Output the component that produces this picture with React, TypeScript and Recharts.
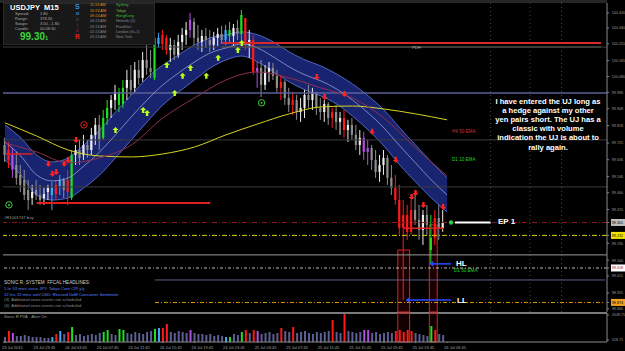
import React from "react";
import {
  Area,
  Bar,
  Cell,
  ComposedChart,
  Line,
  ReferenceArea,
  ReferenceDot,
  ReferenceLine,
  XAxis,
  YAxis,
} from "recharts";

// USDJPY M15, one slot per half hour (approx), 153 slots across the window
const slotCount = 153;

const opens = [
  99.715, 99.688, 99.662, 99.608, 99.555, 99.528, 99.475, 99.432,
  99.475, 99.448, 99.432, 99.464, 99.486, 99.453, 99.496, 99.528,
  99.464, 99.432, 99.662, 99.688, 99.662, 99.715, 99.688, 99.769,
  99.822, 99.753, 99.859, 99.913, 99.955, 99.998, 99.934, 100.02,
  100.062, 100.02, 100.116, 100.073, 100.169, 100.126, 100.073, 100.287,
  100.254, 100.287, 100.222, 100.249, 100.196, 100.265, 100.303, 100.329,
  100.372, 100.287, 100.265, 100.297, 100.276, 100.249, 100.287, 100.308,
  100.276, 100.329, 100.297, 100.34, 100.308, 100.393, 100.249, 100.276,
  100.105, 100.126, 100.036, 100.105, 100.126, 100.084, 100.02, 100.052,
  99.966, 99.929, 99.955, 99.891, 99.913, 99.982, 99.955, 99.998,
  99.913, 99.891, 99.934, 99.859, 99.891, 99.838, 99.859, 99.795,
  99.822, 99.769, 99.715, 99.753, 99.678, 99.699, 99.635, 99.571,
  99.608, 99.646, 99.539, 99.486, 99.421, 99.272, 99.341, 99.251,
  99.368, 99.315, 99.261, 99.341, 99.154, 99.219, 99.325, 99.272,
];
const highs = [
  99.753, 99.731, 99.699, 99.678, 99.608, 99.582, 99.528, 99.502,
  99.528, 99.502, 99.486, 99.502, 99.518, 99.528, 99.555, 99.539,
  99.582, 99.688, 99.715, 99.742, 99.769, 99.742, 99.806, 99.859,
  99.875, 99.902, 99.955, 99.982, 100.036, 100.02, 100.062, 100.116,
  100.142, 100.158, 100.169, 100.212, 100.249, 100.222, 100.313, 100.313,
  100.329, 100.303, 100.287, 100.276, 100.303, 100.34, 100.372, 100.42,
  100.393, 100.356, 100.329, 100.34, 100.329, 100.319, 100.34, 100.351,
  100.356, 100.372, 100.361, 100.383, 100.436, 100.393, 100.329, 100.303,
  100.158, 100.169, 100.142, 100.158, 100.153, 100.116, 100.089, 100.062,
  100.02, 99.998, 99.982, 99.966, 100.009, 100.036, 100.02, 99.998,
  99.966, 99.955, 99.945, 99.913, 99.929, 99.891, 99.902, 99.849,
  99.859, 99.822, 99.795, 99.785, 99.742, 99.715, 99.688, 99.662,
  99.688, 99.662, 99.608, 99.555, 99.502, 99.421, 99.395, 99.421,
  99.448, 99.395, 99.368, 99.395, 99.341, 99.368, 99.395, 99.368,
];
const lows = [
  99.624, 99.592, 99.539, 99.502, 99.464, 99.421, 99.368, 99.395,
  99.421, 99.395, 99.395, 99.421, 99.368, 99.421, 99.448, 99.432,
  99.395, 99.421, 99.608, 99.608, 99.635, 99.646, 99.662, 99.715,
  99.688, 99.742, 99.822, 99.859, 99.902, 99.891, 99.913, 99.955,
  99.982, 99.998, 100.036, 100.052, 100.089, 100.073, 100.062, 100.233,
  100.222, 100.196, 100.158, 100.169, 100.18, 100.222, 100.249, 100.287,
  100.249, 100.222, 100.212, 100.233, 100.212, 100.222, 100.244, 100.254,
  100.249, 100.265, 100.244, 100.276, 100.26, 100.222, 100.18, 100.089,
  100.02, 99.971, 100.009, 100.052, 100.062, 99.998, 99.955, 99.929,
  99.891, 99.875, 99.849, 99.838, 99.859, 99.913, 99.902, 99.875,
  99.849, 99.838, 99.822, 99.806, 99.795, 99.769, 99.753, 99.731,
  99.742, 99.688, 99.662, 99.635, 99.608, 99.582, 99.539, 99.518,
  99.555, 99.502, 99.448, 99.395, 99.235, 98.887, 99.208, 99.235,
  99.288, 99.208, 99.181, 99.235, 99.08, 99.181, 99.208, 99.251,
];
const closes = [
  99.662, 99.635, 99.582, 99.539, 99.502, 99.448, 99.421, 99.464,
  99.448, 99.421, 99.453, 99.486, 99.448, 99.502, 99.528, 99.475,
  99.528, 99.662, 99.688, 99.646, 99.715, 99.688, 99.769, 99.822,
  99.742, 99.859, 99.913, 99.955, 99.998, 99.929, 100.02, 100.062,
  100.009, 100.116, 100.073, 100.169, 100.126, 100.105, 100.287, 100.254,
  100.303, 100.222, 100.249, 100.196, 100.265, 100.303, 100.329, 100.383,
  100.287, 100.265, 100.297, 100.276, 100.249, 100.287, 100.308, 100.276,
  100.329, 100.297, 100.34, 100.308, 100.409, 100.249, 100.276, 100.105,
  100.126, 100.036, 100.105, 100.126, 100.084, 100.02, 100.052, 99.966,
  99.929, 99.955, 99.891, 99.913, 99.982, 99.955, 99.998, 99.913,
  99.891, 99.934, 99.859, 99.891, 99.838, 99.859, 99.795, 99.822,
  99.769, 99.715, 99.753, 99.678, 99.699, 99.635, 99.571, 99.608,
  99.646, 99.539, 99.486, 99.421, 99.272, 99.341, 99.251, 99.368,
  99.315, 99.261, 99.341, 99.288, 99.219, 99.325, 99.272, 99.301,
];
const volumes = [
  780, 1290, 1120, 870, 870, 950, 870, 780,
  780, 780, 700, 700, 780, 1040, 1290, 1040,
  1210, 1630, 950, 1040, 870, 950, 1040, 950,
  1120, 1210, 1380, 1040, 950, 1460, 1380, 1120,
  1040, 1210, 1120, 1040, 1210, 1290, 1460, 1550,
  1550, 1890, 1210, 1120, 1290, 1210, 1120, 1380,
  1120, 1040, 1040, 950, 1040, 870, 950, 870,
  780, 780, 1040, 950, 1210, 1380, 1120, 1380,
  1290, 1040, 1120, 1210, 1040, 1120, 1550, 1290,
  1210, 1630, 1120, 1210, 1290, 1120, 1040, 1210,
  1120, 1210, 1290, 2230, 1210, 1120, 2730, 1290,
  1210, 1120, 1210, 1380, 1380, 1120, 1210, 1040,
  1120, 1210, 1120, 1290, 1380, 1210, 1380, 1290,
  1120, 1040, 950, 870, 1720, 1380, 1040, 950,
];
// PVA class per candle: n normal, g bull climax, r bear climax, b rising, p other
const pvaClass = (
  "nrpnnnnn" + "nnnnbrbn" + "rgnnnnnn" + "nggnnggn" +
  "nnnnnngb" + "rrnnnnnp" + "nnnnnnnn" + "bgnngrnr" +
  "pnnnnnrn" + "nrnnnnnn" + "nnnrnnrn" + "nnnppnnn" +
  "nnnrrrrr" + "nnnngrnn"
).split("");

// Sonic R dragon band, sampled every 4 slots
const bandUpper = [
  99.822, 99.753, 99.662, 99.624, 99.646, 99.715, 99.795, 99.891, 99.982, 100.073,
  100.142, 100.196, 100.249, 100.287, 100.303, 100.319, 100.303, 100.265, 100.212, 100.169,
  100.137, 100.094, 100.041, 99.977, 99.902, 99.806, 99.715, 99.624, 99.539,
];
const bandLower = [
  99.635, 99.555, 99.448, 99.421, 99.432, 99.486, 99.555, 99.646, 99.742, 99.838,
  99.929, 99.998, 100.062, 100.126, 100.169, 100.19, 100.158, 100.105, 100.052, 100.009,
  99.977, 99.934, 99.87, 99.795, 99.71, 99.608, 99.518, 99.432, 99.357,
];
const bandMid = [
  99.731, 99.656, 99.555, 99.523, 99.539, 99.603, 99.678, 99.769, 99.865, 99.955,
  100.036, 100.1, 100.158, 100.206, 100.233, 100.254, 100.233, 100.185, 100.132, 100.089,
  100.057, 100.014, 99.955, 99.886, 99.806, 99.71, 99.619, 99.528, 99.448,
];
// sampled every 8 slots
const sma200 = [
  99.833, 99.763, 99.688, 99.656, 99.651, 99.667, 99.704, 99.769,
  99.827, 99.881, 99.918, 99.923, 99.907, 99.881, 99.849,
];
const ema50h4 = [
  99.726, 99.678, 99.619, 99.646, 99.715, 99.859, 99.966, 100.062,
  100.105, 100.073, 100.02, 99.966, 99.859, 99.699, 99.55,
];

const upSlots = [28, 35, 36, 41, 43, 45, 47, 51, 54, 59, 60];
const upPrices = [99.811, 99.918, 99.902, 100.158, 100.009, 100.1, 100.142, 100.1, 100.196, 100.238, 100.276];
const downSlots = [11, 12, 13, 15, 16, 18, 79, 81, 86, 93, 99, 103, 104, 106, 111];
const downPrices = [99.598, 99.545, 99.555, 99.598, 99.619, 99.726, 100.062, 99.955, 99.971, 99.769, 99.619, 99.421, 99.443, 99.379, 99.368];

const priceTicks = [
  100.42, 100.34, 100.255, 100.165, 100.08, 99.996, 99.908, 99.818, 99.725,
  99.636, 99.546, 99.46, 99.37, 99.19, 99.1, 99.015, 98.925, 98.84,
];
const bidPrice = 99.301;
const yellowLevel = 99.232;
const whiteLevel = 99.058;
const orangeLevel = 98.874;
const pdhLevel = 100.26;
const roundLevel = 99.993;
const grayLevel = 99.128;
const slateLevel = 98.994;
const gridLevels = [100.238, 99.742, 99.491];
const hlLevel = 99.08;
const llLevel = 98.887;

const volTicks = [528.75, 2649.75];
const timeSlots = [0, 8, 16, 24, 32, 40, 48, 56, 64, 72, 80, 88, 96, 104, 112];
const timeLabels = [
  "23 Jul 2015", "23 Jul 23:45", "24 Jul 03:45", "24 Jul 07:45", "24 Jul 11:45",
  "24 Jul 15:45", "24 Jul 19:45", "24 Jul 23:45", "25 Jul 03:45", "25 Jul 07:45",
  "25 Jul 11:45", "25 Jul 15:45", "25 Jul 19:45", "25 Jul 23:45", "26 Jul 03:45",
];

const noteLines = [
  "I have entered the UJ long as",
  "a hedge against my other",
  "yen pairs short. The UJ has a",
  "classic with volume",
  "indication the UJ is about to",
  "rally again.",
];

const pvaColor: Record<string, string> = {
  g: "#1fe01f",
  r: "#ff1a1a",
  b: "#3fa9f5",
  p: "#b24fe0",
};

const rows = Array.from({ length: slotCount }, (_, i) => {
  const has = i < closes.length;
  const b = i % 4 === 0 && i / 4 < bandUpper.length ? i / 4 : -1;
  const m = i % 8 === 0 && i / 8 < sma200.length ? i / 8 : -1;
  return {
    i,
    open: has ? opens[i] : null,
    high: has ? highs[i] : null,
    low: has ? lows[i] : null,
    close: has ? closes[i] : null,
    hl: has ? [lows[i], highs[i]] : null,
    vol: has ? volumes[i] : null,
    pva: has ? pvaClass[i] : "n",
    band: b >= 0 ? [bandLower[b], bandUpper[b]] : null,
    mid: b >= 0 ? bandMid[b] : null,
    sma: m >= 0 ? sma200[m] : null,
    ema: m >= 0 ? ema50h4[m] : null,
  };
});

function Candle(props: any) {
  const { x, y, width, height, payload } = props;
  if (!payload || payload.open == null) return <g />;
  const { open, close, high, low, pva } = payload;
  const top = Math.min(y, y + height);
  const h = Math.abs(height);
  const k = h / (high - low || 1);
  const yo = top + (high - open) * k;
  const yc = top + (high - close) * k;
  const up = close >= open;
  const color = pva !== "n" ? pvaColor[pva] : up ? "#ececec" : "#8e8e8e";
  const cx = x + width / 2;
  return (
    <g>
      <line x1={cx} x2={cx} y1={top} y2={top + h} stroke={color} strokeWidth={1} />
      <rect x={cx - 1.1} y={Math.min(yo, yc)} width={2.2} height={Math.max(1, Math.abs(yc - yo))} fill={color} />
    </g>
  );
}

function UpArrow({ cx, cy }: any) {
  return (
    <path
      d={`M${cx},${cy} L${cx + 3},${cy + 3} L${cx + 1.2},${cy + 3} L${cx + 1.2},${cy + 6} L${cx - 1.2},${cy + 6} L${cx - 1.2},${cy + 3} L${cx - 3},${cy + 3} Z`}
      fill="#b8ff1a"
    />
  );
}

function DownArrow({ cx, cy }: any) {
  return (
    <path
      d={`M${cx},${cy} L${cx + 3},${cy - 3} L${cx + 1.2},${cy - 3} L${cx + 1.2},${cy - 6} L${cx - 1.2},${cy - 6} L${cx - 1.2},${cy - 3} L${cx - 3},${cy - 3} Z`}
      fill="#ff2020"
    />
  );
}

function Ring({ cx, cy, color }: any) {
  return (
    <g>
      <circle cx={cx} cy={cy} r={3.2} fill="none" stroke={color} strokeWidth={1} />
      <circle cx={cx} cy={cy} r={1} fill={color} />
    </g>
  );
}

const boxes: Record<string, string> = {
  [bidPrice.toFixed(3)]: "#bdbdbd",
  [yellowLevel.toFixed(3)]: "#f2e400",
  [whiteLevel.toFixed(3)]: "#ffffff",
  [orangeLevel.toFixed(3)]: "#f0a020",
};

function PriceTick({ x, y, payload }: any) {
  const label = Number(payload.value).toFixed(3);
  const bg = boxes[label];
  if (bg) {
    return (
      <g>
        <rect x={x} y={y - 3.5} width={14} height={7} fill={bg} />
        <text x={x + 0.8} y={y + 1.4} fontSize={3.7} fill={label === whiteLevel.toFixed(3) ? "#a01030" : "#000"}>
          {label}
        </text>
      </g>
    );
  }
  return (
    <text x={x + 0.8} y={y + 1.4} fontSize={3.7} fill="#9a9a9a">
      {label}
    </text>
  );
}

function VolTick({ x, y, payload }: any) {
  return (
    <text x={x + 0.8} y={y + 1.4} fontSize={3.7} fill="#9a9a9a">
      {Number(payload.value).toFixed(2)}
    </text>
  );
}

function TimeTick({ x, y, payload }: any) {
  const idx = timeSlots.indexOf(payload.value);
  return (
    <text x={x - 3} y={y + 4} fontSize={4} fill="#a0a0a0">
      {timeLabels[idx]}
    </text>
  );
}

function T({ x, y, size, color, bold, children }: any) {
  return (
    <div
      style={{
        position: "absolute",
        left: x,
        top: y,
        fontSize: size,
        color,
        fontWeight: bold ? 700 : 400,
        lineHeight: 1,
        whiteSpace: "nowrap",
      }}
    >
      {children}
    </div>
  );
}

export default function App() {
  return (
    <div
      style={{
        position: "absolute",
        left: 0,
        top: 0,
        width: 625,
        height: 351,
        background: "#000",
        overflow: "hidden",
        fontFamily: '"Liberation Sans", Arial, sans-serif',
      }}
    >
      <div style={{ position: "absolute", left: 0, top: 0, width: 607, height: 3, background: "#262626" }} />
      <div style={{ position: "absolute", left: 0, top: 0 }}>
        <ComposedChart width={625} height={313} data={rows} margin={{ top: 3, right: 0, left: 3, bottom: 1 }}>
          <XAxis dataKey="i" hide />
          <YAxis
            orientation="right"
            domain={[98.823, 100.473]}
            allowDataOverflow
            ticks={[...priceTicks, bidPrice, yellowLevel, whiteLevel, orangeLevel]}
            interval={0}
            width={18}
            tickSize={2}
            tickLine={{ stroke: "#8a8a8a" }}
            axisLine={{ stroke: "#8a8a8a" }}
            tick={(p: any) => <PriceTick {...p} />}
          />
          {gridLevels.map((v) => (
            <ReferenceLine key={v} y={v} stroke="#3c3c3c" strokeWidth={1} />
          ))}
          {[123, 133, 141].map((s) => (
            <ReferenceLine key={s} x={s} stroke="#4a4a4a" strokeDasharray="1 3" />
          ))}
          <ReferenceLine y={roundLevel} stroke="#5d5f9a" strokeWidth={1.5} />
          <ReferenceLine y={bidPrice} stroke="#8b1c1c" strokeDasharray="5 2 1 2" />
          <ReferenceLine y={yellowLevel} stroke="#d6cf00" strokeDasharray="5 2 1 2" />
          <ReferenceLine y={grayLevel} stroke="#9a9a9a" />
          <ReferenceLine y={whiteLevel} stroke="#bdbdbd" strokeDasharray="3 2 1 2" />
          <ReferenceLine segment={[{ x: 38, y: slateLevel }, { x: 152, y: slateLevel }]} stroke="#5b5e8e" />
          <ReferenceLine segment={[{ x: 38, y: orangeLevel }, { x: 152, y: orangeLevel }]} stroke="#e69500" strokeDasharray="4 2 1 2" />
          <Area
            dataKey="band"
            type="monotone"
            connectNulls
            stroke="#5464c4"
            strokeWidth={1}
            fill="#1c2a82"
            fillOpacity={0.85}
            isAnimationActive={false}
          />
          <Line dataKey="mid" type="monotone" connectNulls stroke="#a8b0e0" strokeWidth={0.7} dot={false} isAnimationActive={false} />
          <Line dataKey="sma" type="monotone" connectNulls stroke="#d8d420" strokeWidth={1} dot={false} isAnimationActive={false} />
          <Line dataKey="ema" type="monotone" connectNulls stroke="#8e2f50" strokeWidth={1} dot={false} isAnimationActive={false} />
          <ReferenceLine segment={[{ x: 55, y: pdhLevel }, { x: 151, y: pdhLevel }]} stroke="#d42a2a" strokeWidth={2} />
          <ReferenceLine segment={[{ x: 55, y: 100.238 }, { x: 151, y: 100.238 }]} stroke="#5a5a5a" />
          <ReferenceLine segment={[{ x: 8, y: 99.405 }, { x: 52, y: 99.405 }]} stroke="#e02020" strokeWidth={2} />
          <ReferenceLine segment={[{ x: 0, y: 99.667 }, { x: 7, y: 99.667 }]} stroke="#e02020" strokeWidth={1.5} />
          <ReferenceLine segment={[{ x: 101, y: 99.27 }, { x: 111, y: 99.27 }]} stroke="#e02020" strokeWidth={1.5} />
          <ReferenceArea x1={100} x2={102} y1={98.823} y2={99.154} stroke="#e02020" fill="#400000" fillOpacity={0.4} />
          <ReferenceArea x1={108} x2={109} y1={98.823} y2={99.288} stroke="#e02020" fill="#400000" fillOpacity={0.4} />
          <Bar dataKey="hl" barSize={3} shape={(p: any) => <Candle {...p} />} isAnimationActive={false} />
          {upSlots.map((s, k) => (
            <ReferenceDot key={"u" + s} x={s} y={upPrices[k]} shape={(p: any) => <UpArrow cx={p.cx} cy={p.cy} />} />
          ))}
          {downSlots.map((s, k) => (
            <ReferenceDot key={"d" + s} x={s} y={downPrices[k]} shape={(p: any) => <DownArrow cx={p.cx} cy={p.cy} />} />
          ))}
          <ReferenceDot x={1} y={99.395} shape={(p: any) => <Ring cx={p.cx} cy={p.cy} color="#3ccf3c" />} />
          <ReferenceDot x={65} y={99.94} shape={(p: any) => <Ring cx={p.cx} cy={p.cy} color="#3ccf3c" />} />
          <ReferenceDot x={20} y={99.822} shape={(p: any) => <Ring cx={p.cx} cy={p.cy} color="#e02020" />} />
          <ReferenceLine segment={[{ x: 114, y: bidPrice }, { x: 123, y: bidPrice }]} stroke="#ffffff" strokeWidth={2} />
          <ReferenceDot x={113} y={bidPrice} r={2.2} fill="#2ecc40" stroke="none" />
          <ReferenceLine segment={[{ x: 108, y: hlLevel }, { x: 113, y: hlLevel }]} stroke="#2b4cff" strokeWidth={1.5} />
          <ReferenceLine segment={[{ x: 102, y: llLevel }, { x: 113, y: llLevel }]} stroke="#2b4cff" strokeWidth={1.5} />
          <ReferenceDot x={108} y={hlLevel} shape={(p: any) => <path d={`M${p.cx - 2},${p.cy} l4,-3 l0,6 Z`} fill="#2b4cff" />} />
          <ReferenceDot x={102} y={llLevel} shape={(p: any) => <path d={`M${p.cx - 2},${p.cy} l4,-3 l0,6 Z`} fill="#2b4cff" />} />
        </ComposedChart>
      </div>
      <div style={{ position: "absolute", left: 0, top: 312, width: 607, height: 2, background: "#7a7a7a" }} />
      <div style={{ position: "absolute", left: 0, top: 312 }}>
        <ComposedChart width={625} height={39} data={rows} margin={{ top: 1, right: 0, left: 3, bottom: 0 }}>
          <XAxis
            dataKey="i"
            interval={0}
            ticks={timeSlots}
            height={9}
            tickSize={1}
            axisLine={{ stroke: "#8a8a8a" }}
            tickLine={{ stroke: "#8a8a8a" }}
            tick={(p: any) => <TimeTick {...p} />}
          />
          <YAxis
            orientation="right"
            domain={[359, 2819]}
            allowDataOverflow
            ticks={volTicks}
            interval={0}
            width={18}
            tickSize={2}
            tickLine={{ stroke: "#8a8a8a" }}
            axisLine={{ stroke: "#8a8a8a" }}
            tick={(p: any) => <VolTick {...p} />}
          />
          <ReferenceArea x1={100} x2={102} y1={359} y2={2819} stroke="#e02020" fill="#400000" fillOpacity={0.3} />
          <ReferenceArea x1={108} x2={109} y1={359} y2={2819} stroke="#e02020" fill="#400000" fillOpacity={0.3} />
          <Bar dataKey="vol" barSize={2} isAnimationActive={false}>
            {rows.map((r) => (
              <Cell key={r.i} fill={r.pva !== "n" ? pvaColor[r.pva] : "#5d5f92"} />
            ))}
          </Bar>
        </ComposedChart>
      </div>

      {/* info panel */}
      <div style={{ position: "absolute", left: 3, top: 3, width: 150, height: 40, background: "#181818", border: "1px solid #2a2a2a" }} />
      <T x={10} y={3.5} size={7.5} color="#fff" bold>USDJPY</T>
      <T x={44} y={3.5} size={7.5} color="#fff" bold>M15</T>
      {[
        ["Spread:", "1.80"],
        ["Range:", "378.30"],
        ["Swaps:", "3.50, -1.80"],
        ["Candle:", "00:08:30"],
      ].map((r, k) => (
        <React.Fragment key={r[0]}>
          <T x={15} y={12 + k * 5} size={4} color="#a8a8a8">{r[0]}</T>
          <T x={40} y={12 + k * 5} size={4} color="#a8a8a8">{r[1]}</T>
        </React.Fragment>
      ))}
      <T x={20} y={31.5} size={10} color="#3cd23c" bold>99.30</T>
      <T x={45} y={35} size={6} color="#3cd23c" bold>1</T>
      <T x={75} y={3} size={7} color="#2f8fe0" bold>S</T>
      <T x={76} y={10.5} size={5.5} color="#2f8fe0" bold>o</T>
      <T x={76} y={16.5} size={5} color="#555">n</T>
      <T x={77} y={22.5} size={5} color="#555">i</T>
      <T x={76} y={28} size={5} color="#b02020">c</T>
      <T x={75} y={33.5} size={6.5} color="#e02020" bold>R</T>
      {[
        ["11:24 AM", "Sydney", "#e08a1e", "#38b838"],
        ["10:24 AM", "Tokyo", "#e08a1e", "#8fb838"],
        ["09:24 AM", "HongKong", "#e08a1e", "#38b838"],
        ["04:24 AM", "Helsinki  (3)", "#8a8a8a", "#8a8a8a"],
        ["03:24 AM", "Frankfurt", "#8a8a8a", "#8a8a8a"],
        ["02:24 AM", "London  (G+1)", "#8a8a8a", "#8a8a8a"],
        ["03:24 AM", "New York", "#8a8a8a", "#8a8a8a"],
      ].map((r, k) => (
        <React.Fragment key={k}>
          <T x={90} y={4.2 + k * 5.35} size={3.8} color={r[2]}>{r[0]}</T>
          <T x={116} y={4.2 + k * 5.35} size={3.8} color={r[3]}>{r[1]}</T>
        </React.Fragment>
      ))}

      {/* chart labels */}
      <T x={412} y={45.8} size={4.2} color="#b0b0b0">PDH</T>
      <T x={452} y={129.5} size={4.6} color="#d03030">H4 50 EMA</T>
      <T x={452} y={157.5} size={4.6} color="#28d028">D1 10 EMA</T>
      <T x={454} y={268.5} size={4.6} color="#28d028">D1 50 EMA</T>
      <T x={4} y={215.5} size={4.2} color="#9a9a9a">#R1001747 buy</T>
      <T x={498} y={217.5} size={8} color="#fff" bold>EP 1</T>
      <T x={456} y={259.5} size={8} color="#fff" bold>HL</T>
      <T x={457} y={296.5} size={8} color="#fff" bold>LL</T>
      <div
        style={{
          position: "absolute",
          left: 488,
          top: 96.5,
          width: 120,
          textAlign: "center",
          color: "#fff",
          fontWeight: 700,
          fontSize: 7.6,
          lineHeight: "9.2px",
          whiteSpace: "nowrap",
        }}
      >
        {noteLines.map((l) => (
          <div key={l}>{l}</div>
        ))}
      </div>

      {/* news panel */}
      <T x={4} y={281} size={4.6} color="#cfcfcf">SONIC R. SYSTEM&nbsp; FFCAL HEADLINES:</T>
      <T x={4} y={287} size={4.2} color="#5a80ff">1 hr 53 mins since JPY: Tokyo Core CPI y/y</T>
      <T x={4} y={292.5} size={4.2} color="#5a80ff">12 hrs 32 mins until USD: Revised UoM Consumer Sentiment</T>
      <T x={4} y={298} size={4.2} color="#8a8a8a">(3)&nbsp; Additional news events not scheduled</T>
      <T x={4} y={303.5} size={4.2} color="#8a8a8a">(4)&nbsp; Additional news events not scheduled</T>
      <T x={4} y={315} size={4.2} color="#9a9a9a">Sonic R PVA&nbsp;&nbsp; Alert On</T>
    </div>
  );
}
